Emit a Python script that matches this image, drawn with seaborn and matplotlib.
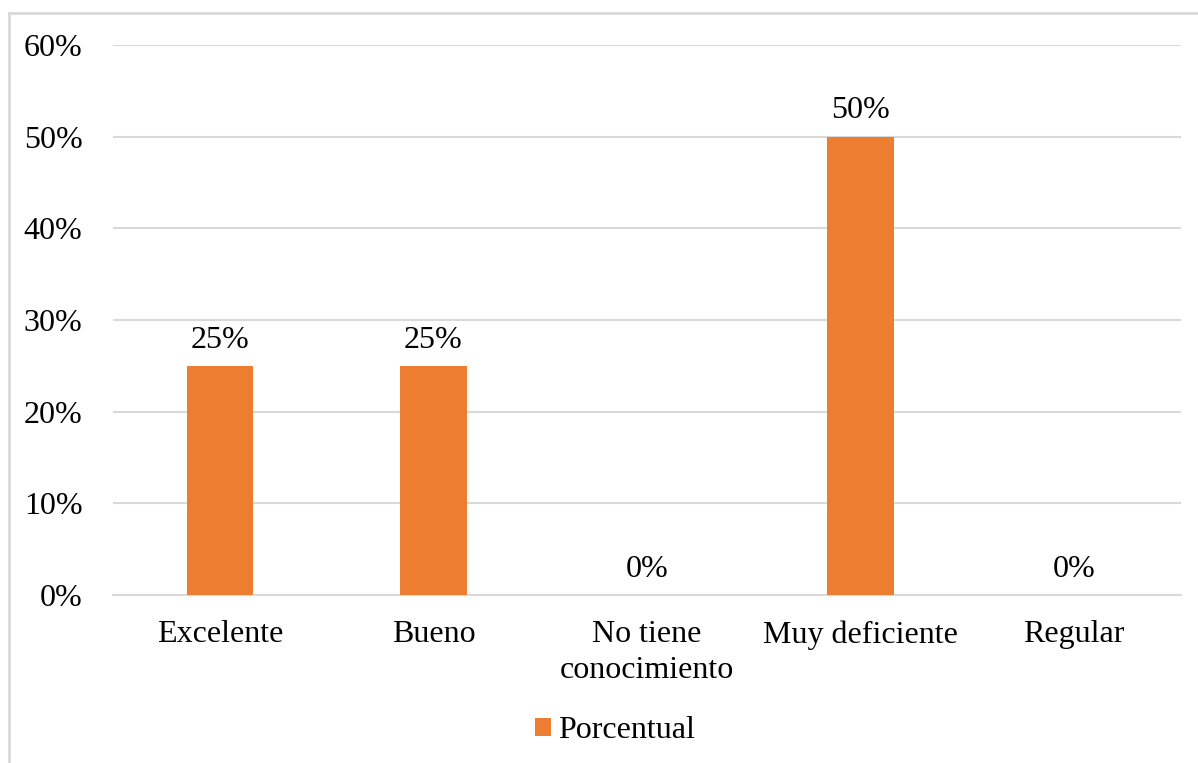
import matplotlib
matplotlib.use("Agg")
import matplotlib.pyplot as plt
import seaborn as sns
import pandas as pd
from matplotlib.patches import Rectangle, Patch
from matplotlib.ticker import FuncFormatter

categories = ["Excelente", "Bueno", "No tiene\nconocimiento", "Muy deficiente", "Regular"]
values = [25, 25, 0, 50, 0]
yticks = [0, 10, 20, 30, 40, 50, 60]
series_name = "Porcentual"

sns.set_theme(style="white")
plt.rcParams['font.family'] = ['Liberation Serif', 'DejaVu Serif']
plt.rcParams['text.color'] = 'black'

FS = 23
df = pd.DataFrame({"cat": categories, "val": values})

fig = plt.figure(figsize=(11.98, 7.63), dpi=100)
ax = fig.add_axes([113/1198, 1-595/763, (1181-113)/1198, (595-45)/763])

sns.barplot(data=df, x="cat", y="val", color="#ED7D31", width=0.31, ax=ax,
            saturation=1, zorder=3, linewidth=0)

ax.set_ylim(0, 60)
ax.set_yticks(yticks)
ax.yaxis.set_major_formatter(FuncFormatter(lambda v, p: f"{int(v)}%"))
ax.grid(axis="y", color="#d9d9d9", linewidth=1.5, zorder=0)
ax.grid(axis="x", visible=False)
for s in ["top", "right", "left"]:
    ax.spines[s].set_visible(False)
ax.spines["bottom"].set_color("#d9d9d9")
ax.spines["bottom"].set_linewidth(1.5)
ax.set_xlabel("")
ax.set_ylabel("")
ax.tick_params(axis="both", length=0, labelsize=FS, colors="black")
ax.tick_params(axis="y", pad=22)
ax.tick_params(axis="x", pad=18)
for t in ax.get_xticklabels():
    t.set_linespacing(1.3)
ax.set_xlim(-0.5, 4.5)

for i, v in enumerate(values):
    ax.annotate(f"{v}%", (i, v), xytext=(0, 18.5), textcoords="offset points",
                ha="center", va="center", fontsize=FS, color="black")

handles = [Patch(facecolor="#ED7D31", edgecolor="none")]
fig.legend(handles, [series_name], loc="center", bbox_to_anchor=(615/1198, 1-731/763),
           frameon=False, fontsize=FS, handlelength=0.5, handleheight=0.5,
           handletextpad=0.2, borderpad=0, labelcolor="black")

fig.patches.append(Rectangle((9/1198, -0.1), 1.2, 1.1 - 13/763, transform=fig.transFigure,
                             fill=False, edgecolor="#d9d9d9", linewidth=2))

fig.savefig("out.png", dpi=100)
